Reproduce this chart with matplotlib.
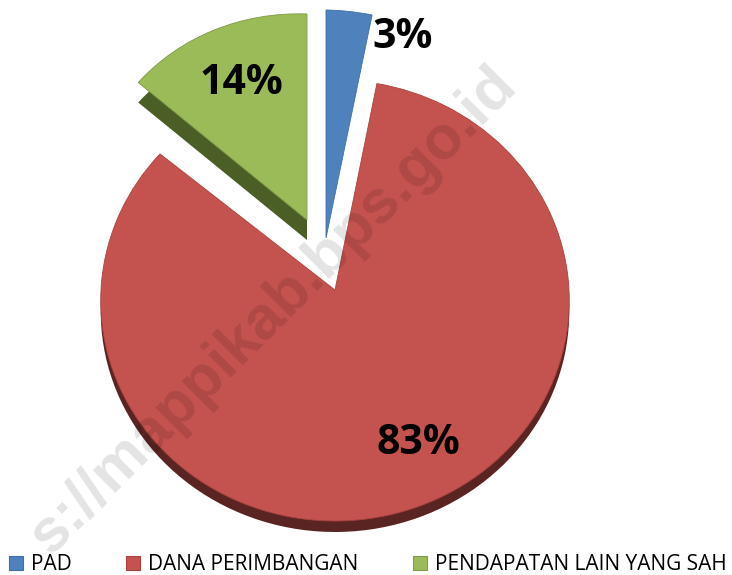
import matplotlib
matplotlib.use("Agg")
import numpy as np
import matplotlib.pyplot as plt
from matplotlib.patches import Patch, Rectangle
from matplotlib.transforms import Affine2D, Transform

categories = ["PAD", "DANA PERIMBANGAN", "PENDAPATAN LAIN YANG SAH"]
values = [3, 83, 14]
colors = ["#4f81bd", "#c4524f", "#9bbb59"]
dark_colors = ["#3a5f8c", "#5a2422", "#4a5e25"]
edge_colors = ["#3f6fa8", "#a8433f", "#7f9a48"]
watermark = "s://mappikab.bps.go.id"

W, H = 732, 575


class Perspective(Transform):
    """Slight projective tilt: the far side of the pie looks smaller."""
    input_dims = output_dims = 2

    def __init__(self, q):
        super().__init__()
        self.q = q

    def transform_non_affine(self, xy):
        xy = np.asarray(xy, dtype=float)
        return xy / (1 + self.q * xy[:, 1:2])


fig = plt.figure(figsize=(W / 100, H / 100), dpi=100, facecolor="white")
ax = fig.add_axes([0, 0, 1, 1])

dw, _ = ax.pie(values, colors=dark_colors, startangle=90, counterclock=False,
               wedgeprops={"linewidth": 0, "zorder": 1})
wedges, _ = ax.pie(values, colors=colors, startangle=90, counterclock=False,
                   wedgeprops={"linewidth": 0.6, "zorder": 2})
ax.set_aspect("auto")
ax.set_xlim(0, W)
ax.set_ylim(H, 0)

placement = [
    Affine2D.from_values(246, 5, 0, -228, 326, 238),
    Perspective(0.0476) + Affine2D.from_values(234, 0, 0, -220, 335, 290),
    Affine2D.from_values(219, 8, 0, -206, 307, 220),
]
depth = [0, 11, 20]
label_px = [(403, 37), (418, 444), (241, 84)]

for i, (w, d, tr, dep) in enumerate(zip(wedges, dw, placement, depth)):
    w.set_transform(tr + ax.transData)
    w.set_edgecolor(edge_colors[i])
    if dep == 0:
        d.set_visible(False)
        continue
    d.set_transform(tr + Affine2D().translate(0, dep) + ax.transData)
    if i == 1:
        clip = Rectangle((0, 300), W, H - 300, transform=ax.transData)
        d.set_clip_path(clip)

for v, p in zip(values, label_px):
    ax.text(p[0], p[1], f"{v}%", ha="center", va="center", color="black",
            fontsize=29.5, fontweight="bold", family="Open Sans", zorder=6)

ax.text(508, 76, watermark, rotation=45, ha="right", va="center",
        rotation_mode="anchor", fontsize=44, fontweight="bold", family="Liberation Sans",
        color="black", alpha=0.11, zorder=5)

handles = [Patch(facecolor=c, edgecolor=e, linewidth=0.8) for c, e in zip(colors, edge_colors)]
ax.legend(handles, categories, ncol=3, loc="lower left", bbox_to_anchor=(0.002, -0.0135),
          frameon=False, prop={"family": "Open Sans", "size": 15.0},
          handlelength=0.68, handleheight=0.68, handletextpad=0.38, columnspacing=2.62,
          borderpad=0.15, borderaxespad=0.2)

fig.savefig("out.png", dpi=100, facecolor="white")
